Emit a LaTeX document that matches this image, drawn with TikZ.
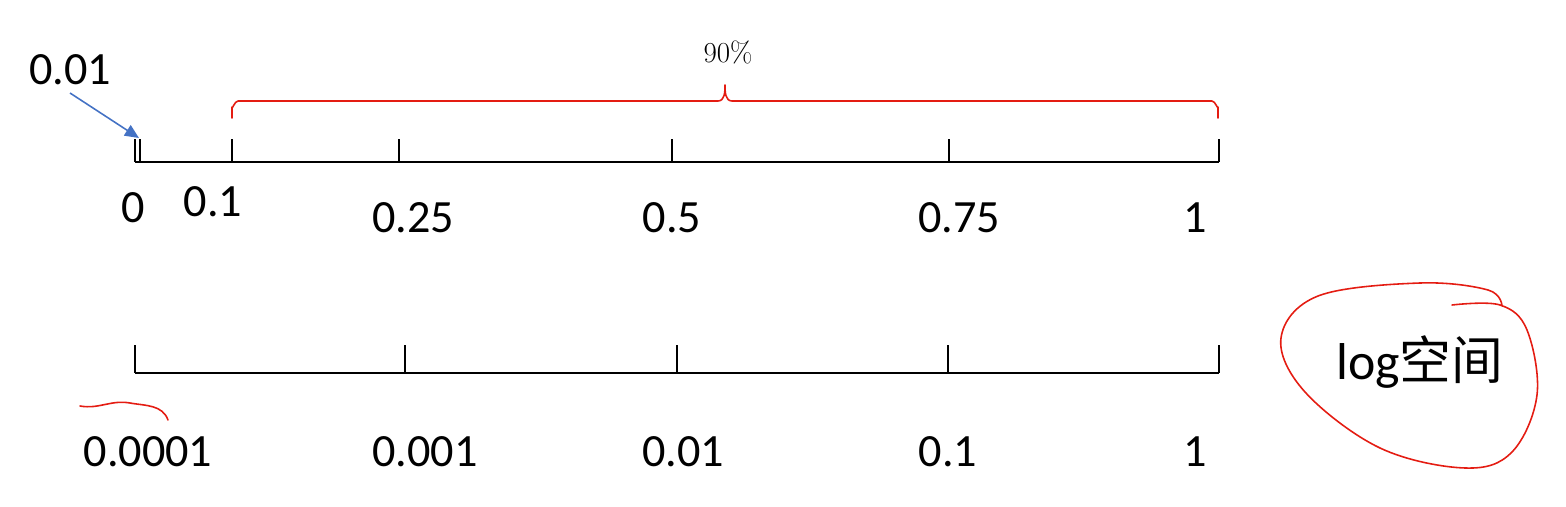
\documentclass[tikz,border=0pt]{standalone}
\usepackage{fontspec}
\setmainfont{Carlito}
\newfontfamily\cjk{Noto Sans CJK SC}
\newfontfamily\lmfont{Latin Modern Roman}
\usetikzlibrary{arrows.meta}
\definecolor{penred}{RGB}{228,28,18}
\definecolor{arrblue}{RGB}{68,114,196}
\begin{document}
\begin{tikzpicture}[x=0.02cm,y=-0.02cm,
  axis/.style={line width=1.1pt,black},
  tickline/.style={line width=1.1pt,black},
  lbl/.style={font=\fontsize{26.3}{29}\selectfont,inner sep=0pt},
  pen/.style={penred,line width=0.9pt,line cap=round,line join=round}]
\useasboundingbox (0,0) rectangle (1566,507);
% top axis
\coordinate (ta) at (135,162);
\coordinate (tb) at (1219,162);
\draw[axis] (ta) -- (tb);
\foreach \xx in {135,140,232,399,672,949,1219}{
  \draw[tickline] (\xx,139) -- (\xx,162);
}
\node[lbl] (l0) at (133,208) {0};
\node[lbl] (l01) at (213,202) {0.1};
\node[lbl] (l025) at (413,218) {0.25};
\node[lbl] (l05) at (672,218) {0.5};
\node[lbl] (l075) at (959,218) {0.75};
\node[lbl] (l1) at (1195,218) {1};
\node[lbl] (l001) at (70,70) {0.01};
\coordinate (ptr) at (139,138);
\draw[arrblue,line width=0.9pt,-{Triangle[length=8pt,width=7pt]}] (70,93) -- (ptr);
% brace
\draw[pen] (232,118) -- (232,107) to[out=-90,in=180] (238,101) -- (718,101)
  to[out=0,in=-90] (725,85) to[out=-90,in=180] (732,101) -- (1212,101)
  to[out=0,in=-90] (1218,107) -- (1218,118);
\node[inner sep=0pt,font=\lmfont\fontsize{16.5}{18}\selectfont] (pct) at (728,52) {90\%};
% bottom axis
\coordinate (ba) at (135,373);
\coordinate (bb) at (1219,373);
\draw[axis] (ba) -- (bb);
\foreach \xx in {135,405,677,948,1219}{
  \draw[tickline] (\xx,345) -- (\xx,373);
}
\node[lbl] (m0001) at (148,452) {0.0001};
\node[lbl] (m001) at (425,452) {0.001};
\node[lbl] (m01) at (683,452) {0.01};
\node[lbl] (m1a) at (948,452) {0.1};
\node[lbl] (m1) at (1195,452) {1};
% red mark above 0.0001
\draw[pen] (80,406) to[out=-10,in=170] (130,403) to[out=-10,in=110] (168,420);
% log space
\node[inner sep=0pt,font=\fontsize{29.5}{33}\selectfont] (logsp) at (1420,362) {log{\cjk 空间}};
\draw[pen] plot[smooth,tension=0.6] coordinates {
  (1452,305) (1500,305) (1527,330) (1537,395) (1512,452) (1465,468)
  (1380,448) (1305,392) (1281,338) (1318,296) (1420,283) (1488,290) (1502,306)};
\end{tikzpicture}
\end{document}
